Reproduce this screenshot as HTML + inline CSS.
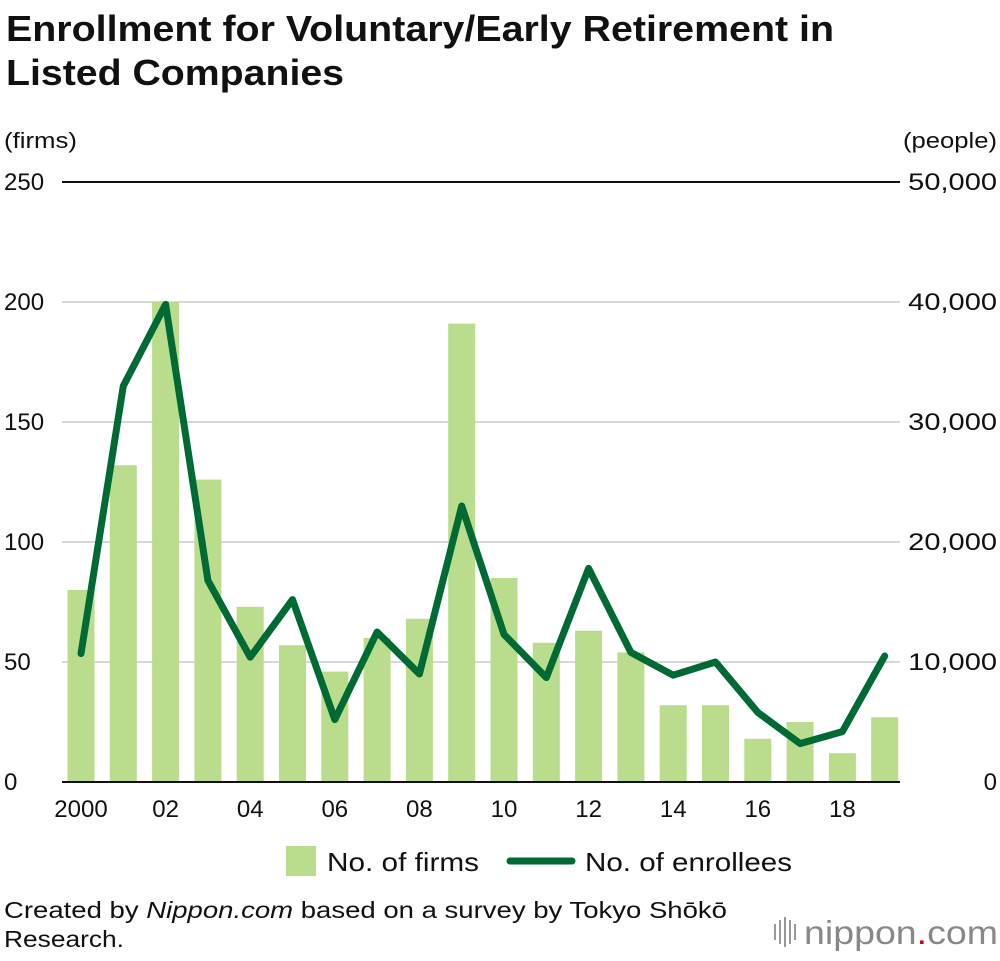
<!DOCTYPE html>
<html><head><meta charset="utf-8"><style>
body{margin:0;background:#fff;width:1000px;height:956px;overflow:hidden;font-family:"Liberation Sans",sans-serif;}
</style></head><body>
<svg width="1000" height="956" xmlns="http://www.w3.org/2000/svg" font-family="Liberation Sans, sans-serif">
<text x="6" y="41" font-size="36" font-weight="bold" fill="#111" textLength="828" lengthAdjust="spacingAndGlyphs">Enrollment for Voluntary/Early Retirement in</text>
<text x="6" y="85" font-size="36" font-weight="bold" fill="#111" textLength="338" lengthAdjust="spacingAndGlyphs">Listed Companies</text>
<text x="4" y="148" font-size="22" fill="#111" textLength="73" lengthAdjust="spacingAndGlyphs">(firms)</text>
<text x="997" y="148" font-size="22" fill="#111" text-anchor="end" textLength="94" lengthAdjust="spacingAndGlyphs">(people)</text>
<g id="grid"></g><g id="bars"></g><g id="line"></g><g id="axes"></g>
<rect x="286" y="846" width="30" height="30" fill="#b9dd8c"/>
<text x="327" y="871" font-size="26" fill="#111" textLength="152" lengthAdjust="spacingAndGlyphs">No. of firms</text>
<line x1="510" y1="861" x2="572" y2="861" stroke="#006a35" stroke-width="7" stroke-linecap="round"/>
<text x="585" y="871" font-size="26" fill="#111" textLength="207" lengthAdjust="spacingAndGlyphs">No. of enrollees</text>
<text x="4" y="918" font-size="23" fill="#111" textLength="723" lengthAdjust="spacingAndGlyphs">Created by <tspan font-style="italic">Nippon.com</tspan> based on a survey by Tokyo Shōkō</text>
<text x="4" y="947" font-size="23" fill="#111" textLength="120" lengthAdjust="spacingAndGlyphs">Research.</text>
<g>
<rect x="774" y="924" width="2" height="16" fill="#999"/><rect x="779" y="920" width="2" height="24" fill="#999"/><rect x="784" y="917" width="2" height="30" fill="#999"/><rect x="789" y="920" width="2" height="24" fill="#999"/><rect x="794" y="924" width="2" height="16" fill="#999"/>
<text x="804" y="944" font-size="33" fill="#888" textLength="194" lengthAdjust="spacingAndGlyphs">nippon<tspan fill="#d0021b">.</tspan>com</text>
</g>
</svg>
<script>
const years=["2000","01","02","03","04","05","06","07","08","09","10","11","12","13","14","15","16","17","18","19"];
const firms=[80,132,200,126,73,57,46,60,68,191,85,58,63,54,32,32,18,25,12,27];
const enrollees=[10700,33000,39800,16800,10400,15200,5200,12500,9000,23000,12300,8700,17800,10800,8900,10000,5800,3200,4200,10500];
const leftTicks=[0,50,100,150,200,250];
const rightTicks=["0","10,000","20,000","30,000","40,000","50,000"];
const NS="http://www.w3.org/2000/svg";
const x0=62,x1=900,yTop=182,yBot=782,step=42.3,first=81;
const xPos=i=>first+i*step;
const yL=v=>yBot-(v/250)*(yBot-yTop);
const yR=v=>yBot-(v/50000)*(yBot-yTop);
function mk(t,a,p){const e=document.createElementNS(NS,t);for(const k in a)e.setAttribute(k,a[k]);p.appendChild(e);return e;}
const grid=document.getElementById('grid'),axes=document.getElementById('axes');
leftTicks.forEach((v,i)=>{
 const y=yL(v);
 const g=mk('line',{x1:x0,x2:x1,y1:y,y2:y,stroke:(i==0||i==5)?'#111':'#ccc','stroke-width':(i==0||i==5)?2:1.5},grid);
 
 
 const t=mk('text',{x:4,y:y+8,'font-size':24,fill:'#111'},axes);t.textContent=v;
 
 
 const r=mk('text',{x:997,y:y+8,'font-size':24,fill:'#111','text-anchor':'end'},axes);r.textContent=rightTicks[i];
 if(rightTicks[i].length>1){r.setAttribute('textLength',String(rightTicks[i].length*14.8));r.setAttribute('lengthAdjust','spacingAndGlyphs');}
 
 
});
const bars=document.getElementById('bars');
firms.forEach((v,i)=>{
 const b=mk('rect',{x:xPos(i)-13.5,y:yL(v),width:27,height:yBot-yL(v),fill:'#b9dd8c'},bars);
 
 
});
const base=mk('line',{x1:x0,x2:x1,y1:yBot,y2:yBot,stroke:'#111','stroke-width':2},axes);


years.forEach((y,i)=>{ if(i%2) return;
 const t=mk('text',{x:xPos(i),y:817,'font-size':24,fill:'#111','text-anchor':'middle'},axes);t.textContent=y;
 
 
});
const pts=enrollees.map((v,i)=>xPos(i)+','+yR(v)).join(' ');
const pl=mk('polyline',{points:pts,fill:'none',stroke:'#006a35','stroke-width':7,'stroke-linejoin':'round','stroke-linecap':'round'},document.getElementById('line'));


</script>
</body></html>
